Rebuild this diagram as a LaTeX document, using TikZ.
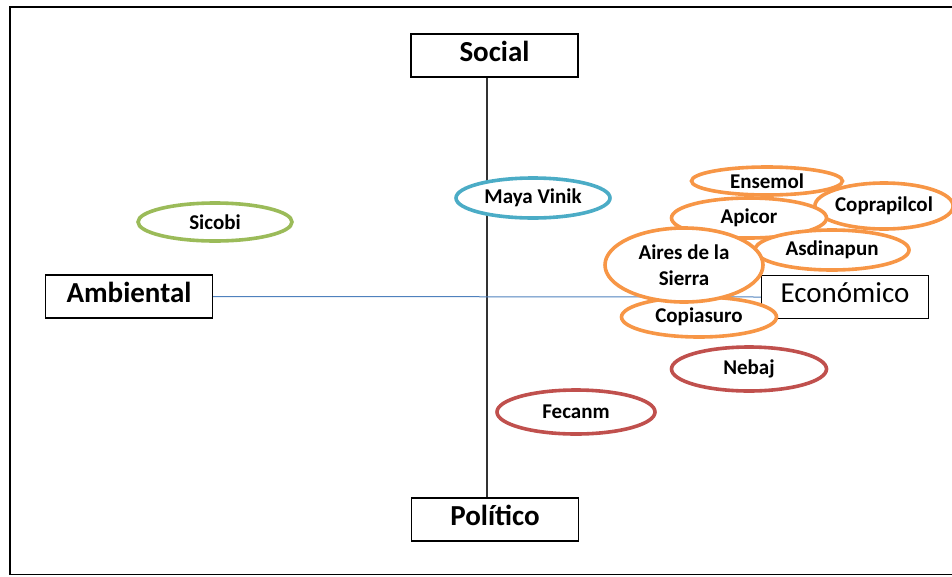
\documentclass[tikz,border=0pt]{standalone}
\usepackage{fontspec}
\setmainfont{Carlito}
\usetikzlibrary{shapes.geometric}
\definecolor{orng}{HTML}{F79646}
\definecolor{grn}{HTML}{9BBB59}
\definecolor{aqua}{HTML}{4BACC6}
\definecolor{rd}{HTML}{C0504D}
\definecolor{axblue}{HTML}{4F81BD}
\tikzset{
  axisbox/.style={draw=black, line width=1.2pt, fill=white, inner sep=0pt, minimum width=167pt, minimum height=43pt, text height=20pt, text depth=8.4pt, font=\fontsize{29}{34}\selectfont},
  actor/.style={ellipse, draw=#1, line width=3.6pt, fill=white, inner sep=0pt, font=\bfseries\fontsize{21}{26}\selectfont, align=center},
  vaxis/.style={draw=black!80, line width=1.2pt},
  haxis/.style={draw=axblue, line width=1pt},
  frameline/.style={draw=black, line width=1.6pt}
}
\begin{document}
\begin{tikzpicture}[x=1pt, y=-1pt]
\useasboundingbox (0,0) rectangle (952,576);
% frame
\coordinate (f1) at (952,7);
\coordinate (f2) at (10,7);
\coordinate (f3) at (10,574.5);
\coordinate (f4) at (952,574.5);
\draw[frameline] (f1) -- (f2) -- (f3) -- (f4);
% axis boxes
\node[axisbox, font=\bfseries\fontsize{29}{34}\selectfont] (social) at (494.5,55.5) {Social};
\node[axisbox, font=\bfseries\fontsize{29}{34}\selectfont] (politico) at (495,519.5) {Político};
\node[axisbox, font=\bfseries\fontsize{29}{34}\selectfont] (ambiental) at (129,296.5) {Ambiental};
\node[axisbox] (economico) at (845,297) {Económico};
% axes
\coordinate (vx) at (487,0);
\draw[vaxis] (social.south -| vx) -- (politico.north -| vx);
\draw[haxis] (ambiental.east) -- (economico.west);
% actors
\node[actor=aqua, minimum width=154pt, minimum height=40pt] (maya) at (533,198) {Maya Vinik};
\node[actor=grn, minimum width=154pt, minimum height=38pt] (sicobi) at (215,222) {Sicobi};
\node[actor=orng, minimum width=132pt, minimum height=46pt] (coprapilcol) at (884,206) {Coprapilcol};
\node[actor=orng, minimum width=151pt, minimum height=28pt] (ensemol) at (767,181) {Ensemol};
\node[actor=orng, minimum width=155pt, minimum height=40pt] (apicor) at (749,218) {Apicor};
\node[actor=orng, minimum width=154pt, minimum height=40pt] (asdinapun) at (832,250) {Asdinapun};
\node[actor=orng, minimum width=155pt, minimum height=40pt] (copiasuro) at (699,317) {Copiasuro};
\node[actor=orng, minimum width=158pt, minimum height=74pt] (aires) at (684,265) {Aires de la\\Sierra};
\node[actor=rd, minimum width=155pt, minimum height=44pt] (nebaj) at (749,369) {Nebaj};
\node[actor=rd, minimum width=158pt, minimum height=44pt] (fecanm) at (576,412) {Fecanm};
\end{tikzpicture}
\end{document}
